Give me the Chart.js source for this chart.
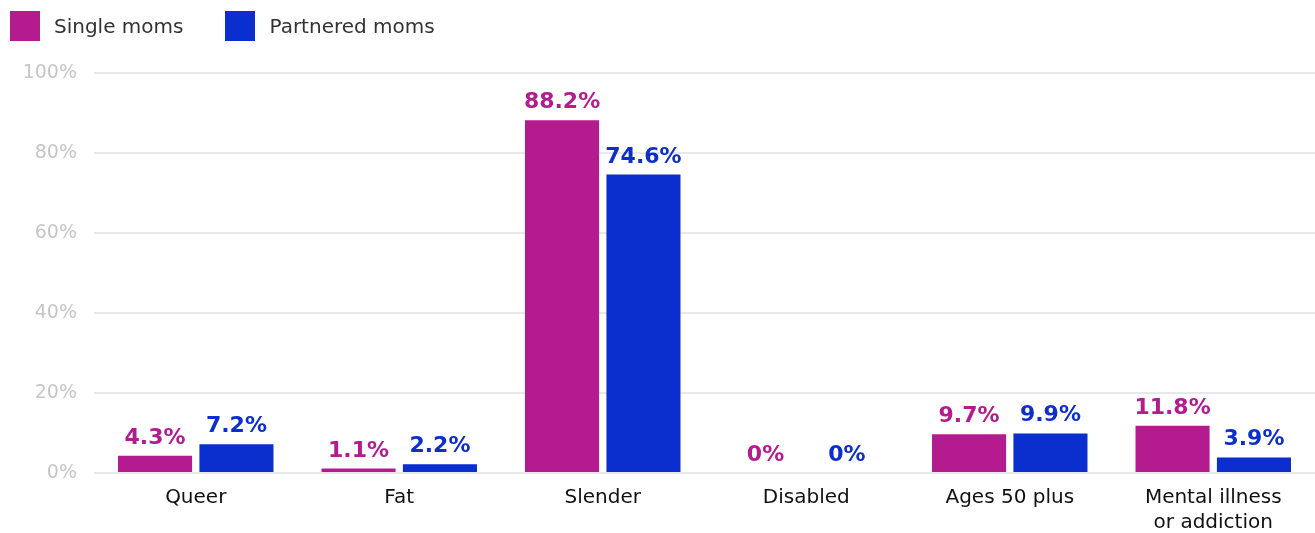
<!DOCTYPE html>
<html>
<head>
<meta charset="utf-8">
<script src="https://cdn.jsdelivr.net/npm/chart.js@4"></script>
<style>
  html, body { margin: 0; padding: 0; background: #fff; }
  #wrap { position: relative; width: 1315px; height: 533px; }
  #legend { position: absolute; left: 10px; top: 11px; display: flex; font: 20px 'DejaVu Sans', sans-serif; color: #333; }
  .item { display: flex; align-items: center; height: 30px; margin-right: 42px; }
  .box { width: 30px; height: 30px; margin-right: 14px; }
</style>
</head>
<body>
<div id="wrap">
  <div id="legend"></div>
  <canvas id="chart"></canvas>
</div>
<script>
const categories = ['Queer', 'Fat', 'Slender', 'Disabled', 'Ages 50 plus', ['Mental illness', 'or addiction']];
const singleMoms = [4.3, 1.1, 88.2, 0, 9.7, 11.8];
const partneredMoms = [7.2, 2.2, 74.6, 0, 9.9, 3.9];
const seriesNames = ['Single moms', 'Partnered moms'];
const seriesColors = ['#b41b8e', '#0b2ecf'];
const yTicks = [0, 20, 40, 60, 80, 100];

const FONT = "'DejaVu Sans', sans-serif";

// legend as plain html above the canvas
const legendEl = document.getElementById('legend');
seriesNames.forEach((name, i)=>{
  const item = document.createElement('div');
  item.className = 'item';
  item.innerHTML = '<span class="box" style="background:' + seriesColors[i] + '"></span><span>' + name + '</span>';
  legendEl.appendChild(item);
});

// draws the value above each bar, in the bar's colour
const valueLabels = {
  id: 'valueLabels',
  afterDatasetsDraw(chart){
    const ctx = chart.ctx;
    ctx.save();
    ctx.font = 'bold 22px ' + FONT;
    ctx.textAlign = 'center';
    ctx.textBaseline = 'alphabetic';
    chart.data.datasets.forEach((ds, i)=>{
      const meta = chart.getDatasetMeta(i);
      ctx.fillStyle = ds.backgroundColor;
      meta.data.forEach((bar, j)=>{
        ctx.fillText(ds.data[j] + '%', bar.x, bar.y - 12);
      });
    });
    ctx.restore();
  }
};

new Chart(document.getElementById('chart'), {
  type: 'bar',
  data: {
    labels: categories,
    datasets: [
      { label: seriesNames[0], data: singleMoms, backgroundColor: seriesColors[0] },
      { label: seriesNames[1], data: partneredMoms, backgroundColor: seriesColors[1] }
    ]
  },
  options: {
    responsive: true,
    maintainAspectRatio: false,
    animation: false,
    categoryPercentage: 0.8,
    barPercentage: 0.91,
    layout: { padding: { left: 0, right: 0, top: 73, bottom: 2 } },
    plugins: {
      tooltip: { enabled: false },
      legend: { display: false }
    },
    scales: {
      y: {
        min: 0, max: 100,
        afterBuildTicks: (axis)=>{ axis.ticks = yTicks.map(v=>({ value: v })); },
        afterFit: (axis)=>{ axis.width = 94; },
        ticks: { callback: v=>v + '%', color: '#c6c6c6', padding: 17, font: { family: FONT, size: 19 } },
        grid: { color: '#e8e8e8', lineWidth: 2, drawTicks: false },
        border: { display: false }
      },
      x: {
        afterFit: (axis)=>{ axis.height = 58; },
        grid: { display: false },
        border: { display: false },
        ticks: { color: '#111', padding: 4, font: { family: FONT, size: 20, lineHeight: 1.25 } }
      }
    }
  },
  plugins: [valueLabels]
});
</script>
</body>
</html>
